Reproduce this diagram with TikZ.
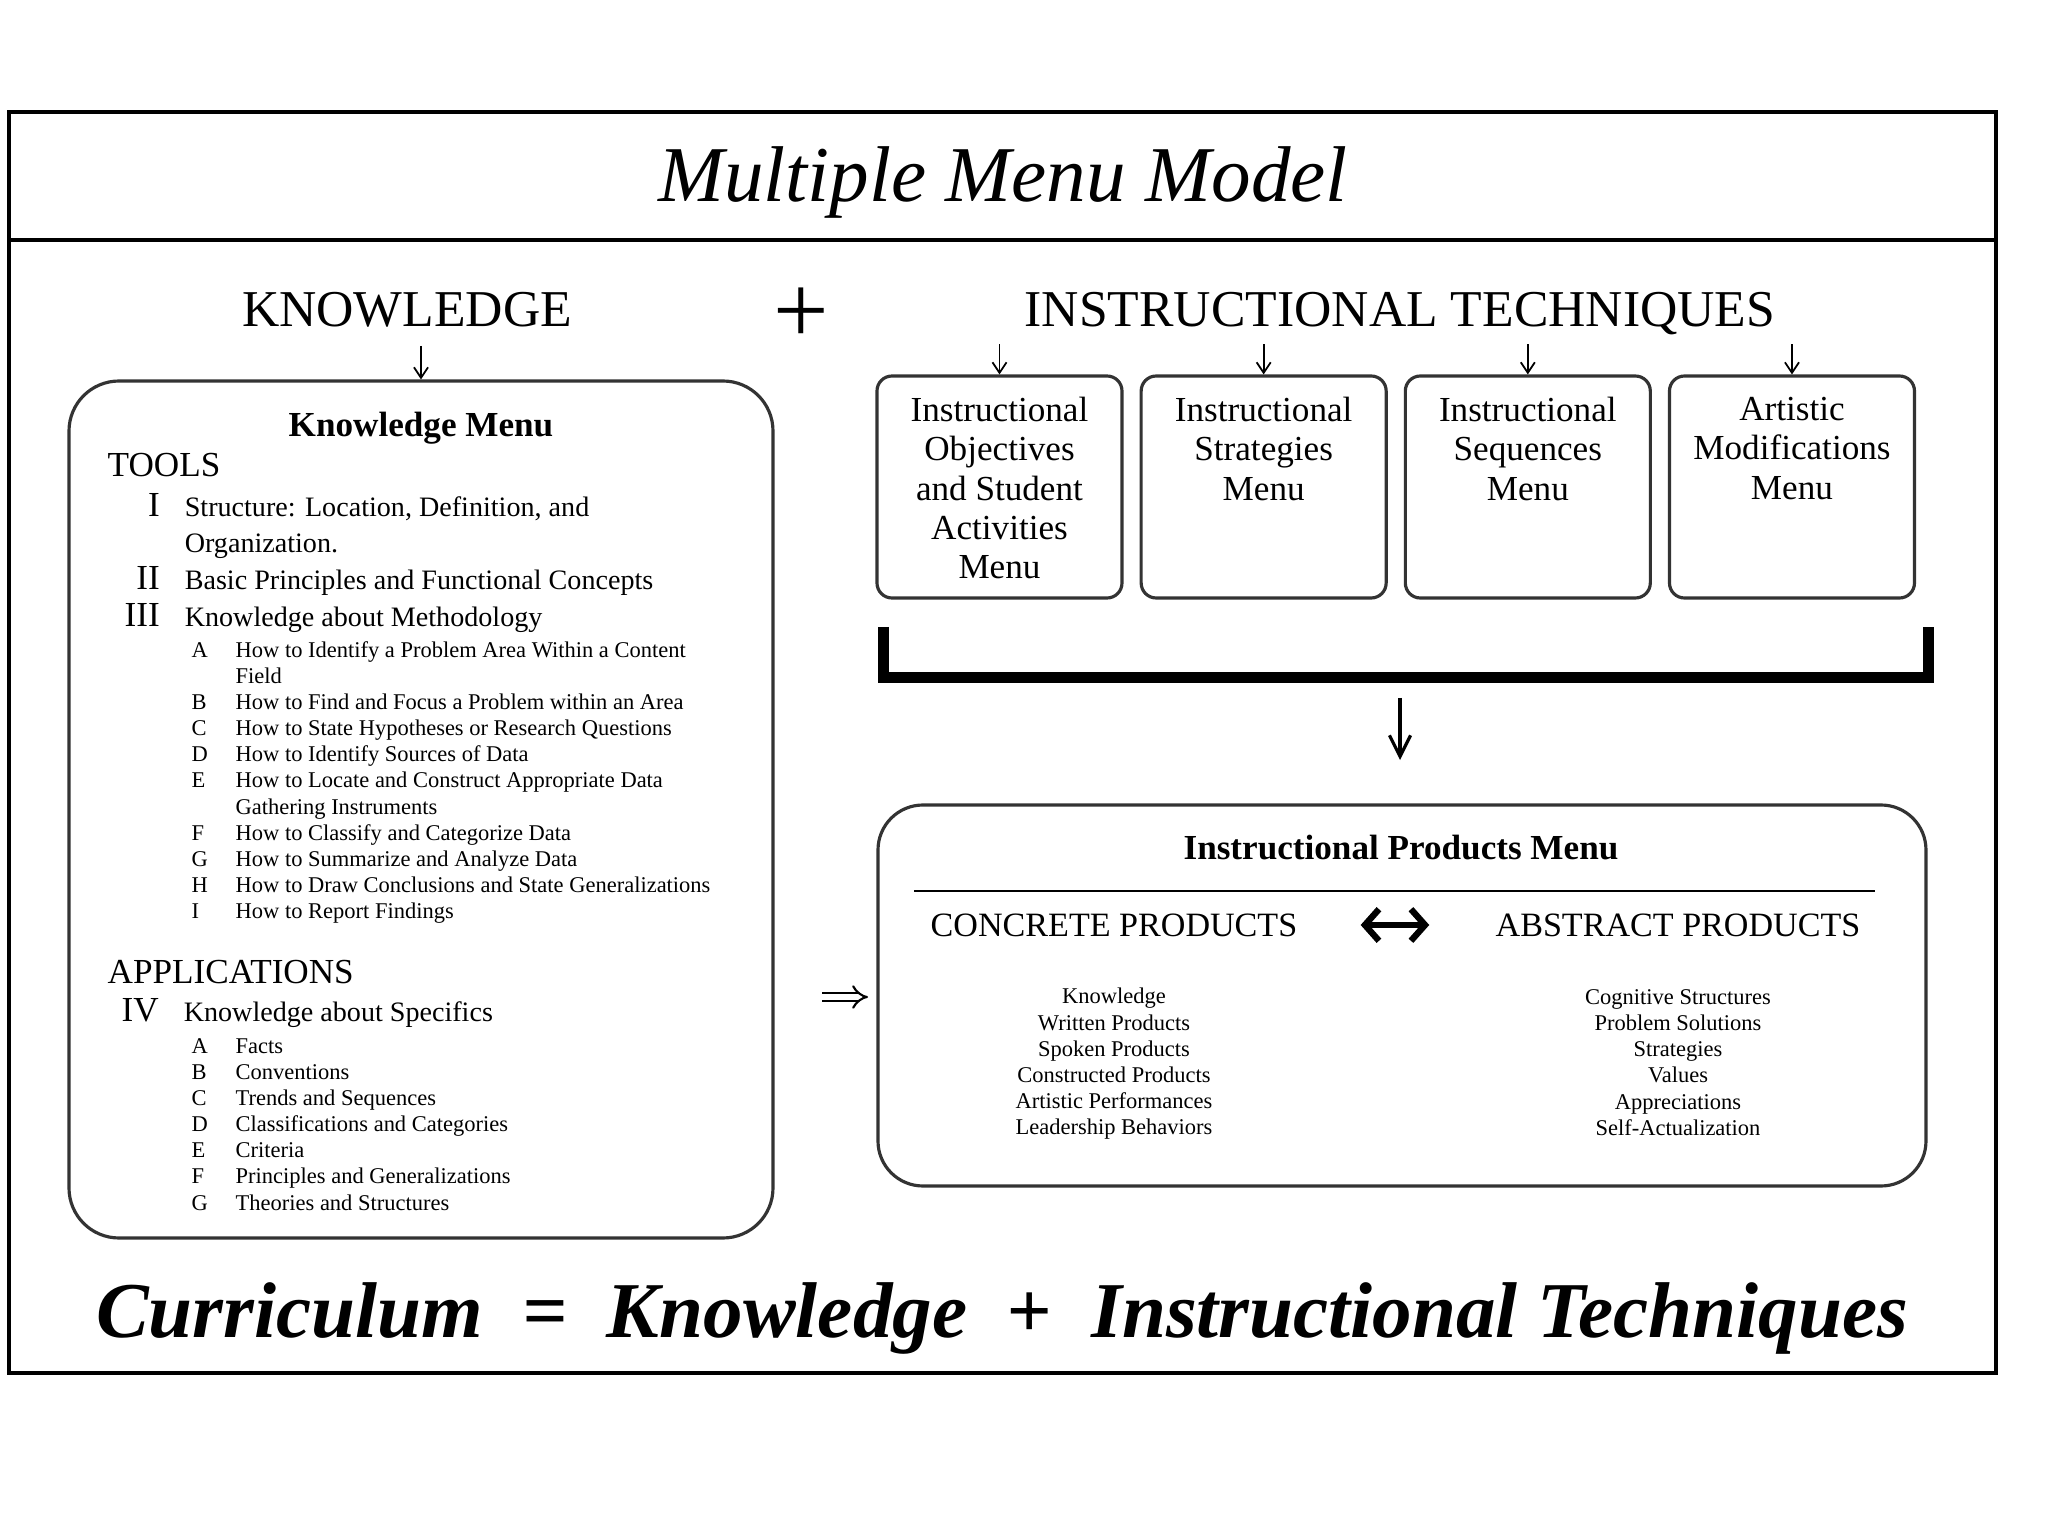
\documentclass[tikz,border=0pt]{standalone}
\usepackage{fontspec}
\setmainfont{Liberation Serif}
\usepackage{array}
\usetikzlibrary{arrows.meta,positioning}

\begin{document}
\begin{tikzpicture}[
  menu/.style={draw=black!80,line width=0.9pt},
  tbox/.style={menu,rounded corners=0.15cm,minimum width=2.45cm,minimum height=2.22cm},
  tlabel/.style={align=center,inner sep=0pt,font=\fontsize{10}{11.2}\selectfont},
  head/.style={font=\fontsize{14.7}{15}\selectfont},
  sect/.style={anchor=west,inner sep=0pt,font=\fontsize{10}{12}\selectfont},
  roman/.style={anchor=base west,inner sep=0pt,font=\fontsize{8}{10.5}\selectfont},
  small/.style={inner sep=0pt,font=\fontsize{6.4}{7.45}\selectfont},
  feed/.style={-{Straight Barb[length=3pt,width=4pt]},line width=0.5pt}]

\useasboundingbox (0,0) rectangle (20.48,-15.36);
\draw[line width=1pt] (0.09,-1.12) rectangle (19.96,-13.73);
\draw[line width=1pt] (0.09,-2.40) -- (19.96,-2.40);

\node[font=\itshape\fontsize{22.5}{22.5}\selectfont] (title) at (10.03,-1.82) {Multiple Menu Model};

\node[head] (know) at (4.07,-3.10) {KNOWLEDGE};
\node[font=\fontsize{28}{28}\selectfont] (plus) at (8.01,-3.16) {+};
\node[head] (tech) at (14.00,-3.14) {INSTRUCTIONAL TECHNIQUES};

\node[menu,rounded corners=0.5cm,minimum width=7.04cm,minimum height=8.57cm] (kmenu) at (4.21,-8.095) {};
\coordinate (kin) at (4.21,-3.46);
\draw[feed] (kin) -- (kmenu.north);

\node[font=\bfseries\fontsize{10}{12}\selectfont] (ktitle) at (4.21,-4.28) {Knowledge Menu};
\node[sect] (tools) at (1.07,-4.65) {TOOLS};
\node[roman] (tools1) at (1.24,-5.16) {%
  \begin{tabular}[t]{@{}>{\fontsize{10}{10.5}\selectfont}r@{\hspace{0.25cm}}l@{}}
  I & Structure: Location, Definition, and\\
    & Organization.\\
  II & Basic Principles and Functional Concepts\\
  III & Knowledge about Methodology
  \end{tabular}};
\node[small,anchor=base west] (method) at (1.91,-6.57) {%
  \begin{tabular}[t]{@{}p{0.44cm}@{}l@{}}
  A & How to Identify a Problem Area Within a Content\\
    & Field\\
  B & How to Find and Focus a Problem within an Area\\
  C & How to State Hypotheses or Research Questions\\
  D & How to Identify Sources of Data\\
  E & How to Locate and Construct Appropriate Data\\
    & Gathering Instruments\\
  F & How to Classify and Categorize Data\\
  G & How to Summarize and Analyze Data\\
  H & How to Draw Conclusions and State Generalizations\\
  I & How to Report Findings
  \end{tabular}};

\node[sect] (apps) at (1.07,-9.72) {APPLICATIONS};
\node[roman] (apps1) at (1.21,-10.22) {%
  \begin{tabular}[t]{@{}>{\fontsize{10}{10.5}\selectfont}r@{\hspace{0.25cm}}l@{}}
  IV & Knowledge about Specifics
  \end{tabular}};
\node[small,anchor=base west] (specs) at (1.91,-10.53) {%
  \begin{tabular}[t]{@{}p{0.44cm}@{}l@{}}
  A & Facts\\
  B & Conventions\\
  C & Trends and Sequences\\
  D & Classifications and Categories\\
  E & Criteria\\
  F & Principles and Generalizations\\
  G & Theories and Structures
  \end{tabular}};

\node[tbox] (obj) at (9.995,-4.87) {};
\node[tbox,right=0.16cm of obj] (strat) {};
\node[tbox,right=0.16cm of strat] (seq) {};
\node[tbox,right=0.16cm of seq] (art) {};
\node[tlabel,below=0.22cm of obj.north] (objt) {Instructional\\Objectives\\and Student\\Activities\\Menu};
\node[tlabel,below=0.22cm of strat.north] (stratt) {Instructional\\Strategies\\Menu};
\node[tlabel,below=0.22cm of seq.north] (seqt) {Instructional\\Sequences\\Menu};
\node[tlabel,below=0.22cm of art.north] (artt) {Artistic\\Modifications\\Menu};
\foreach \b in {obj,strat,seq,art}{
  \coordinate (\b-in) at ([yshift=0.30cm]\b.north);
  \draw[feed] (\b-in) -- (\b.north);
}

\draw[line width=0.11cm] (8.83,-6.27) -- ++(0,-0.505) -| (19.28,-6.27);
\coordinate (pin) at (14.00,-6.98);
\coordinate (pout) at (14.00,-7.60);
\draw[-{Straight Barb[length=6pt,width=6pt]},line width=0.9pt] (pin) -- (pout);

\node[menu,rounded corners=0.45cm,minimum width=10.48cm,minimum height=3.81cm] (prod) at (14.02,-9.955) {};
\node[font=\bfseries\fontsize{10}{12}\selectfont] (ptitle) at (14.01,-8.48) {Instructional Products Menu};
\draw[line width=0.8pt] (9.14,-8.91) -- (18.75,-8.91);
\node[font=\fontsize{9.7}{12}\selectfont] (conc) at (11.14,-9.25) {CONCRETE PRODUCTS};
\node[font=\fontsize{9.7}{12}\selectfont] (abst) at (16.78,-9.25) {ABSTRACT PRODUCTS};
\draw[{Straight Barb[length=4pt,width=9pt]}-{Straight Barb[length=4pt,width=9pt]},line width=1.8pt,
  shorten <=0.51cm,shorten >=0.54cm] (conc.east) -- (abst.west);
\node[small,align=center] (clist) at (11.14,-10.64) {Knowledge\\Written Products\\Spoken Products\\Constructed Products\\Artistic Performances\\Leadership Behaviors};
\node[small,align=center] (alist) at (16.78,-10.625) {Cognitive Structures\\Problem Solutions\\Strategies\\Values\\Appreciations\\Self-Actualization};

\coordinate (ka) at (8.22,-9.97);
\coordinate (kb) at (8.68,-9.97);
\draw[-{Implies},double,double distance=1.7pt,line width=0.6pt] (ka) -- (kb);

\node[font=\bfseries\itshape\fontsize{22.5}{22.5}\selectfont] (formula) at (10.02,-13.18)
  {Curriculum\enspace=\enspace Knowledge\enspace+\enspace Instructional Techniques};
\end{tikzpicture}
\end{document}
